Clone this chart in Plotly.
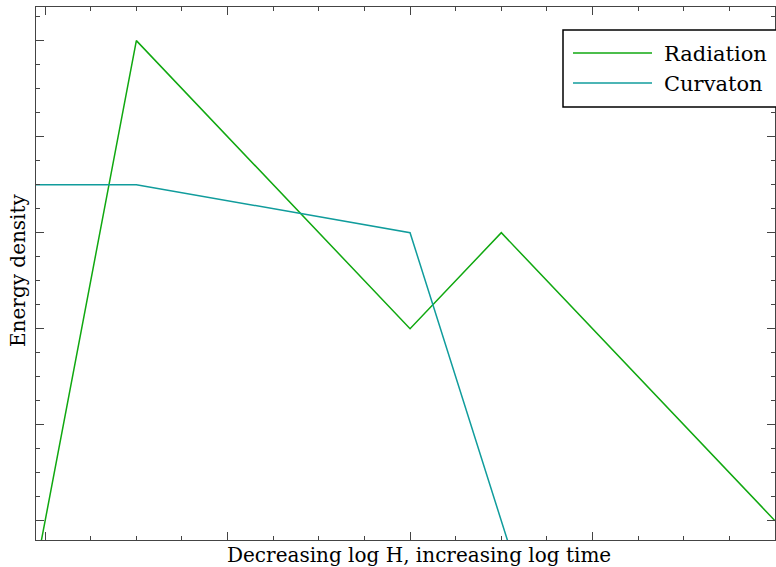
import plotly.graph_objects as go

# Data (in "log" units)
rad_x = [-0.1, 0.5, 2.0, 2.5, 4.0]
rad_y = [-1.0, 5.0, 2.0, 3.0, 0.0]
curv_x = [-0.1, 0.5, 2.0, 3.0]
curv_y = [3.5, 3.5, 3.0, -3.0]
series_names = ["Radiation", "Curvaton"]
series_colors = ["#10a810", "#109c9c"]

W, H = 776, 567
L, R, T, B = 36, 1, 7, 27
pw, ph = W - L - R, H - T - B

def px(x):
    return (x - L) / pw

def py(y):
    return (H - B - y) / ph

FONT = "DejaVu Serif"

fig = go.Figure()
fig.add_trace(go.Scatter(x=rad_x, y=rad_y, mode="lines", name=series_names[0],
                         line=dict(color=series_colors[0], width=1.5)))
fig.add_trace(go.Scatter(x=curv_x, y=curv_y, mode="lines", name=series_names[1],
                         line=dict(color=series_colors[1], width=1.5)))

axis_common = dict(showgrid=False, zeroline=False, showticklabels=False,
                   showline=True, linecolor="#444", linewidth=1, mirror="ticks",
                   ticks="inside", ticklen=8, tickcolor="#444", tickwidth=1)
fig.update_xaxes(range=[-0.05, 4.0], dtick=1, tick0=0,
                 minor=dict(dtick=0.25, ticks="inside", ticklen=4, tickcolor="#444"),
                 **axis_common)
fig.update_yaxes(range=[-0.2, 5.35], dtick=1, tick0=0,
                 minor=dict(dtick=0.25, ticks="inside", ticklen=4, tickcolor="#444"),
                 **axis_common)

shapes = [dict(type="rect", xref="paper", yref="paper",
               x0=px(563), x1=px(800), y0=py(107), y1=py(30),
               line=dict(color="black", width=1.5), fillcolor="white", layer="above")]
annotations = [
    dict(text="Decreasing log H, increasing log time", xref="paper", yref="paper",
         x=px(419), y=py(555), showarrow=False, font=dict(family=FONT, size=20, color="black"),
         xanchor="center", yanchor="middle"),
    dict(text="Energy density", xref="paper", yref="paper", textangle=-90,
         x=px(18), y=py(270), showarrow=False, font=dict(family=FONT, size=20, color="black"),
         xanchor="center", yanchor="middle"),
]
for i, (name, col) in enumerate(zip(series_names, series_colors)):
    yy = 53 + 30 * i
    shapes.append(dict(type="line", xref="paper", yref="paper",
                       x0=px(573), x1=px(652), y0=py(yy), y1=py(yy),
                       line=dict(color=col, width=1.5), layer="above"))
    annotations.append(dict(text=name, xref="paper", yref="paper", x=px(662), y=py(yy + 1),
                            showarrow=False, xanchor="left", yanchor="middle",
                            font=dict(family=FONT, size=21, color="black")))

fig.update_layout(width=W, height=H, margin=dict(l=L, r=R, t=T, b=B, pad=0),
                  plot_bgcolor="white", paper_bgcolor="white", showlegend=False,
                  shapes=shapes, annotations=annotations)

fig.write_html("out.html", config={"displayModeBar": False},
               post_script="document.body.style.margin='0';document.body.style.overflow='hidden';")
